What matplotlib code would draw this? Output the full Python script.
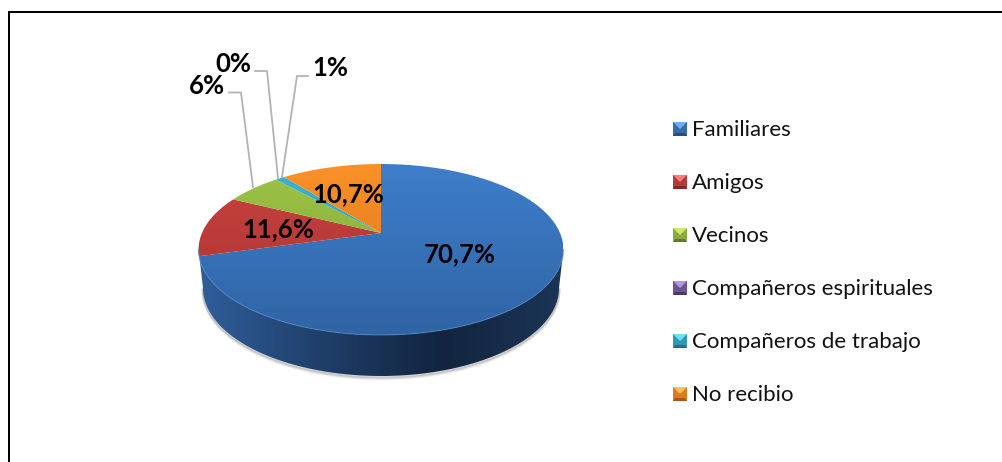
import numpy as np
import matplotlib
matplotlib.use("Agg")
import matplotlib.pyplot as plt
from matplotlib.colors import LinearSegmentedColormap
from matplotlib.patches import Polygon

categories = ["Familiares", "Amigos", "Vecinos", "Compañeros espirituales",
              "Compañeros de trabajo", "No recibio"]
values = [70.7, 11.6, 6.0, 0.0, 1.0, 10.7]
slice_labels = ["70,7%", "11,6%", "6%", "0%", "1%", "10,7%"]

# top and bottom colour of each slice face
slice_tops = ["#3f7ecb", "#c9413e", "#9dc546", "#8064a2", "#3ab4d2", "#fa9128"]
slice_bottoms = ["#2f64a4", "#a83431", "#7f9f38", "#60497a", "#2c92ad", "#d5721b"]
side_stops = ["#2f5f9b", "#1f3f6a", "#12243f", "#1b3556"]
legend_light = ["#6fb0f0", "#f47c78", "#cdea70", "#b496dc", "#6fe0f5", "#ffc060"]
legend_mid = ["#356da8", "#b23a37", "#8aab3e", "#6d5390", "#2f9ab5", "#e07a1e"]
legend_dark = ["#264d7c", "#7e2b29", "#637c2c", "#4a3863", "#226f84", "#a3591a"]

# pixel layout of the 3D pie
cx, cy = 381, 233
a, b, k = 179, 82.3, 0.193

fig = plt.figure(figsize=(10.02, 4.62), dpi=100)
ax = fig.add_axes([0, 0, 1, 1])
ax.set_xlim(0, 1002)
ax.set_ylim(462, 0)
ax.axis("off")


def project(frac_start, frac_end, n=120):
    # clockwise from 12 o'clock, perspective tilted disc
    t = np.radians(90 - 360 * np.linspace(frac_start, frac_end, n))
    u, v = np.cos(t), np.sin(t)
    w = 1 + k * v
    return cx + a * u / w, cy - b * v / w


def gradient_fill(poly, colors, extent, vertical=True, zorder=2):
    cmap = LinearSegmentedColormap.from_list("g", colors)
    g = np.linspace(0, 1, 256)
    g = g[:, None] if vertical else g[None, :]
    im = ax.imshow(g, cmap=cmap, extent=extent, aspect="auto", zorder=zorder,
                   interpolation="bilinear")
    patch = Polygon(poly, closed=True, fc="none", ec="none", transform=ax.transData)
    ax.add_patch(patch)
    im.set_clip_path(patch)


# side wall: front arc of the top face down to the bottom rim
t = np.linspace(np.pi, 2 * np.pi, 200)
bot_x = 381 + 178 * np.cos(t)
bot_y = 288 - 88 * np.sin(t)
fx, fy = project(0.281, 0.719, 200)
side = np.column_stack([np.r_[fx, bot_x], np.r_[fy, bot_y]])

# soft shadow under the rim
for off, alpha in [(3.0, 0.10), (2.0, 0.18), (1.0, 0.28)]:
    ax.plot(bot_x, bot_y + off, color="#808080", lw=2, alpha=alpha, zorder=1)

gradient_fill(side, side_stops, (198, 563, 462, 0), vertical=False, zorder=2)

# slice faces
cum = np.r_[0, np.cumsum(values)] / sum(values)
for i in range(len(values)):
    if values[i] == 0:
        continue
    x, y = project(cum[i], cum[i + 1])
    poly = np.column_stack([np.r_[cx, x], np.r_[cy, y]])
    gradient_fill(poly, [slice_tops[i], slice_bottoms[i]], (198, 563, 336, 164), zorder=3)

# thin light rim on the front edge
ax.plot(fx, fy, color="#4d82c4", lw=0.8, alpha=0.7, zorder=4)

# leader lines
ax.plot([229, 241, 253], [92.5, 92.5, 187], color="#b3b3b3", lw=1.3, zorder=5)
ax.plot([255, 267, 278], [71, 71, 178], color="#b3b3b3", lw=1.3, zorder=5)
ax.plot([308, 297, 282], [76, 76, 177], color="#b3b3b3", lw=1.3, zorder=5)

# slice labels
label_pos = [(460, 254.5), (278, 229), (207, 86.5), (233, 64.5), (330, 68.5), (348, 194.5)]
for lab, (lx, ly) in zip(slice_labels, label_pos):
    ax.text(lx, ly, lab, family="Lato", fontsize=18.5, fontweight="bold", color="black",
            ha="center", va="center", zorder=6)

# legend
for i, name in enumerate(categories):
    my = 129 + 53 * i
    x0, x1, y0, y1 = 673, 687, my - 7, my + 7
    ax.add_patch(Polygon([(x0, y0), (x1, y0), (x1, y1), (x0, y1)], fc=legend_mid[i], ec="none", zorder=5))
    ax.add_patch(Polygon([(x0, y1), (x1, y1), (x1 - 2, y1 - 3), (x0 + 2, y1 - 3)], fc=legend_dark[i], ec="none", zorder=6))
    ax.add_patch(Polygon([(x0, y0), (x1, y0), (x0 + 7, y0 + 7)], fc=legend_light[i], ec="none", zorder=6))
    ax.text(692, my + 1, name, family="Lato", fontsize=16, color="#111111",
            ha="left", va="center", zorder=6)

# chart frame, only top and left show in the crop
ax.plot([9, 9, 1002], [462, 12, 12], color="black", lw=1.45, zorder=7,
        solid_joinstyle="miter")

fig.savefig("out.png", dpi=100, facecolor="white")
